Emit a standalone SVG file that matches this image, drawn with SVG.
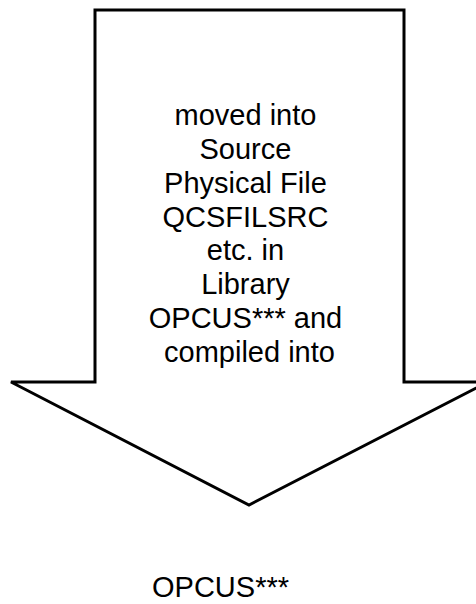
<svg xmlns="http://www.w3.org/2000/svg" width="476" height="604" viewBox="0 0 476 604">
<style>
.shape{fill:#fff;stroke:#000;stroke-width:3;stroke-linejoin:miter}
.t{font-family:"Liberation Sans",Arial,sans-serif;font-size:29px;fill:#000}
</style>
<rect width="476" height="604" fill="#fff"/>
<g id="arrow">
<polygon class="shape" points="95,10 404,10 404,382 488,382 249,505 11,382 95,382"/>
<text class="t" text-anchor="middle" x="249.5">
<tspan x="249.5" y="125">moved into</tspan>
<tspan x="249.5" y="158.5">Source</tspan>
<tspan x="249.5" y="192.5">Physical File</tspan>
<tspan x="249.5" y="226.5">QCSFILSRC</tspan>
<tspan x="249.5" y="260">etc. in</tspan>
<tspan x="249.5" y="294">Library</tspan>
<tspan x="249.5" y="328">OPCUS*** and</tspan>
<tspan x="249.5" y="361.5">compiled into</tspan>
</text>
</g>
<g id="target">
<text class="t" x="152" y="597">OPCUS***</text>
</g>
<g id="connectors"/>
</svg>
